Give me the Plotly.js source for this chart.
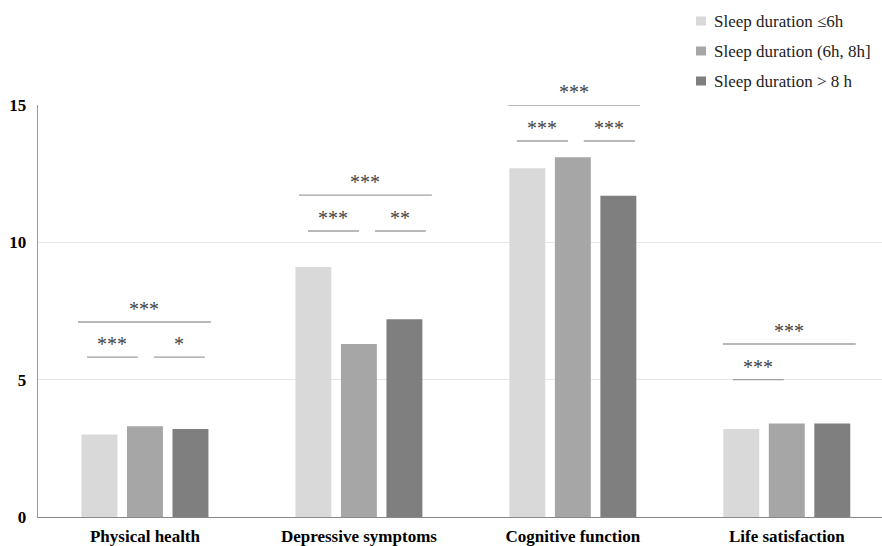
<!DOCTYPE html>
<html><head><meta charset="utf-8">
<script src="https://cdn.plot.ly/plotly-3.0.1.min.js"></script>
<style>body{margin:0;background:#fff}#c{width:882px;height:546px}</style>
</head><body><div id="c"></div>
<script>
const categories = ["Physical health", "Depressive symptoms", "Cognitive function", "Life satisfaction"];
const seriesNames = ["Sleep duration \u22646h", "Sleep duration (6h, 8h]", "Sleep duration > 8 h"];
const short6 = [3.0, 9.1, 12.7, 3.2];
const mid68 = [3.3, 6.3, 13.1, 3.4];
const long8 = [3.2, 7.2, 11.7, 3.4];
const colors = ["#d9d9d9", "#a6a6a6", "#7f7f7f"];
// significance brackets: category index, y level, label
const sigCat = [0, 0, 0, 1, 1, 1, 2, 2, 2, 3, 3];
const sigY = [7.1, 5.82, 5.82, 11.72, 10.41, 10.41, 15.0, 13.69, 13.69, 6.3, 5.0];
const sigLabel = ["***", "***", "*", "***", "***", "**", "***", "***", "***", "***", "***"];

const serif = "Liberation Serif";
const vals = [short6, mid68, long8];
const traces = vals.map((v, i) => ({
  type: "bar", x: categories, y: v, name: seriesNames[i],
  marker: {color: colors[i]}, hoverinfo: "skip", showlegend: false
}));

// bracket extents relative to category centre (layout, in category units)
const brX0 = [-0.313, -0.271, 0.042, -0.280, -0.238, 0.075, -0.304, -0.262, 0.051, -0.299, -0.252];
const brX1 = [0.308, -0.033, 0.280, 0.341, 0.000, 0.313, 0.313, -0.023, 0.290, 0.322, -0.014];
const shapes = [], annotations = [];
sigCat.forEach((c, k) => {
  shapes.push({type: "line", xref: "x", yref: "y", x0: c + brX0[k], x1: c + brX1[k], y0: sigY[k], y1: sigY[k],
    line: {color: "#a0a0a0", width: 1.4}});
  annotations.push({xref: "x", yref: "y", x: c + (brX0[k] + brX1[k]) / 2, y: sigY[k], yshift: 13, text: sigLabel[k],
    showarrow: false, font: {family: serif, size: 20, color: "#444"}});
});

// manual legend (paper coordinates in pixels)
const plotL = 38, plotW = 844, plotT = 105, plotH = 412;
const px = x => (x - plotL) / plotW;
const py = y => (plotT + plotH - y) / plotH;
seriesNames.forEach((n, i) => {
  const cy = 21 + 30 * i;
  shapes.push({type: "rect", xref: "paper", yref: "paper", x0: px(696), x1: px(706), y0: py(cy + 4.5), y1: py(cy - 4.5),
    fillcolor: colors[i], line: {width: 0}});
  annotations.push({xref: "paper", yref: "paper", x: px(712), y: py(cy), xanchor: "left", yanchor: "middle",
    text: n, showarrow: false, font: {family: serif, size: 17, color: "#222"}});
});

const layout = {
  width: 882, height: 546,
  margin: {l: 38, r: 0, t: 105, b: 29},
  paper_bgcolor: "#fff", plot_bgcolor: "#fff",
  barmode: "group", bargap: 0.362, bargroupgap: 0.21,
  xaxis: {range: [-0.5, 3.445], showline: true, linecolor: "#888", linewidth: 1.3, ticks: "",
    ticklabelstandoff: 3,
    tickfont: {family: serif, size: 17, color: "#000", weight: "bold"}, showgrid: false, fixedrange: true},
  yaxis: {range: [0, 15], dtick: 5, showline: true, linecolor: "#999", linewidth: 1.3, ticks: "",
    gridcolor: "#e6e6e6", gridwidth: 1, zeroline: false, ticklabelstandoff: 7,
    tickfont: {family: serif, size: 17, color: "#000", weight: "bold"}},
  shapes: shapes, annotations: annotations,
  showlegend: false,
  hovermode: false
};
Plotly.newPlot("c", traces, layout, {displayModeBar: false, staticPlot: true});
</script></body></html>
